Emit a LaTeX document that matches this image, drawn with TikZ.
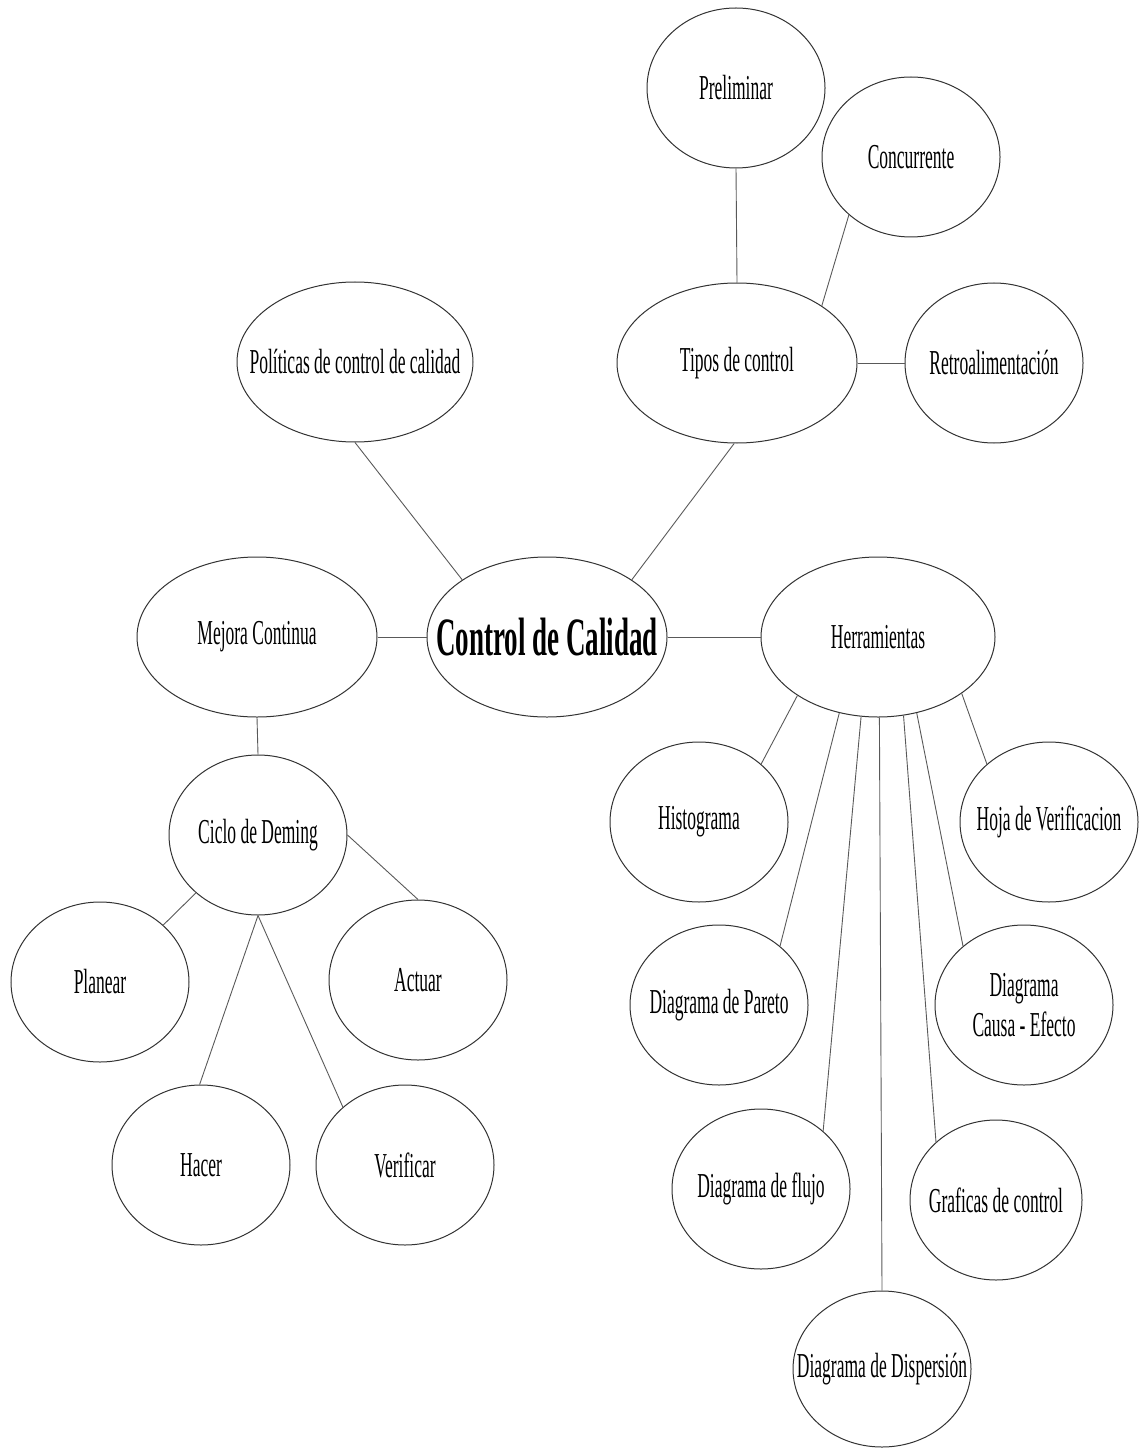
\documentclass[tikz,border=0pt]{standalone}
\usepackage{fontspec}
\setmainfont{Liberation Serif}[FakeStretch=0.5]
\usetikzlibrary{shapes}

\begin{document}
\begin{tikzpicture}[x=0.5pt, y=-0.5pt,
    elipse/.style={ellipse, draw=black!80, line width=0.5pt, fill=white,
        minimum width=89pt, minimum height=80pt, inner xsep=-15pt, inner ysep=0pt,
        font=\fontsize{17.5}{20}\selectfont},
    ancha/.style={elipse, minimum width=120pt},
    linea/.style={black!65, line width=0.45pt}]
    \useasboundingbox (0,0) rectangle (1141,1449);

    % Nodo central
    \node[ancha, font=\fontsize{27}{30}\selectfont\bfseries] (control) at (547,637) {Control de Calidad};
    \node[ancha, minimum width=118pt] (politicas) at (355,362) {Políticas de control de calidad};
    \node[ancha] (tipos) at (737,363) {Tipos de control};
    \node[ancha] (mejora) at (257,637) {Mejora Continua};
    \node[ancha, minimum width=117pt] (herr) at (878,637) {Herramientas};

    % Tipos de control
    \node[elipse] (prelim) at (736,88) {Preliminar};
    \node[elipse] (concur) at (911,157) {Concurrente};
    \node[elipse] (retro) at (994,363) {Retroalimentación};

    % Ciclo de Deming
    \node[elipse] (ciclo) at (258,835) {Ciclo de Deming};
    \node[elipse] (planear) at (100,982) {Planear};
    \node[elipse] (actuar) at (418,980) {Actuar};
    \node[elipse] (hacer) at (201,1165) {Hacer};
    \node[elipse] (verificar) at (405,1165) {Verificar};

    % Herramientas
    \node[elipse] (histo) at (699,822) {Histograma};
    \node[elipse] (hoja) at (1049,822) {Hoja de Verificacion};
    \node[elipse] (pareto) at (719,1005) {Diagrama de Pareto};
    \node[elipse, align=center] (causa) at (1024,1005) {Diagrama\\Causa - Efecto};
    \node[elipse] (flujo) at (761,1189) {Diagrama de flujo};
    \node[elipse, minimum width=86pt] (graficas) at (996,1200) {Graficas de control};
    \node[elipse, minimum height=78pt] (disper) at (882,1369) {Diagrama de Dispersión};

    % Enlaces
    \draw[linea] (control.180) -- (mejora.0);
    \draw[linea] (control.0) -- (herr.180);
    \draw[linea] (control.146) -- (politicas.270);
    \draw[linea] (control.34) -- (tipos.268);

    \draw[linea] (tipos.90) -- (prelim.270);
    \draw[linea] (tipos.34) -- (concur.223);
    \draw[linea] (tipos.0) -- (retro.180);

    \draw[linea] (mejora.270) -- (ciclo.90);
    \foreach \dst/\a/\b in {planear/223/42, actuar/0/90, hacer/270/91, verificar/270/137}
        \draw[linea] (ciclo.\a) -- (\dst.\b);

    \foreach \dst/\a/\b in {histo/216/43, pareto/243/44, flujo/258/43, disper/271/90,
                            graficas/288/136, causa/297/136, hoja/326/137}
        \draw[linea] (herr.\a) -- (\dst.\b);
\end{tikzpicture}
\end{document}
